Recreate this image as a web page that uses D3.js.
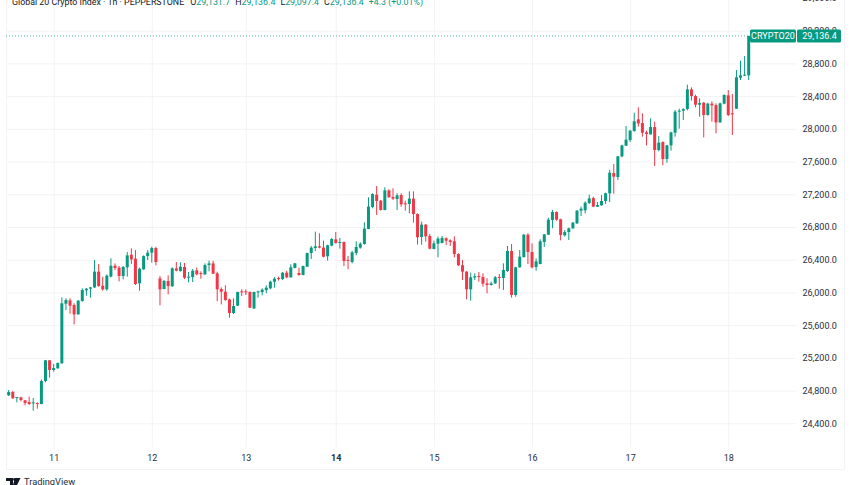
<!DOCTYPE html>
<html lang="en">
<head>
    <meta charset="UTF-8">
    <title>Global 20 Crypto Index</title>
    <script src="https://d3js.org/d3.v7.min.js"></script>
    <style>
        html, body { margin: 0; padding: 0; background: #fff; overflow: hidden; }
        svg { display: block; }
        text { font-family: Roboto, sans-serif; fill: #131722; }
        .grid line { stroke: #f2f3f5; stroke-width: 1; }
        .grid .domain { display: none; }
        .axis .domain, .axis line { display: none; }
        .axis text { font-size: 9px; fill: #2a2e39; }
    </style>
</head>
<body>
    <div id="chart"></div>

    <script>
        const width = 852, height = 485;
        const upColor = "#089981", downColor = "#f23645";

        // open, high, low, close, one row per hour
        const candles = [
            [24742,24807,24734,24783],[24783,24795,24701,24705],[24713,24721,24656,24721],[24717,24725,24668,24685],
            [24681,24685,24620,24648],[24660,24725,24624,24636],[24648,24709,24554,24656],[24648,24656,24579,24636],
            [24636,24937,24632,24917],[24917,25174,24901,25170],[25170,25174,24958,25052],[25052,25125,25031,25076],
            [25072,25145,25068,25137],[25133,25940,25129,25867],[25862,25928,25785,25907],[25903,25928,25740,25838],
            [25846,25867,25610,25732],[25732,25907,25728,25899],[25895,26050,25887,26030],[26025,26054,25960,26046],
            [26046,26066,25936,26062],[26062,26396,26054,26254],[26254,26347,26070,26078],[26082,26193,26021,26038],
            [26038,26221,26021,26205],[26193,26417,26184,26327],[26327,26355,26274,26298],[26303,26323,26135,26201],
            [26201,26323,26160,26311],[26307,26494,26193,26453],[26461,26539,26347,26404],[26413,26519,26091,26103],
            [26111,26303,26021,26290],[26282,26453,26278,26445],[26445,26519,26396,26486],[26486,26559,26364,26543],
            [26543,26559,26331,26372],[26172,26201,25842,26038],[26042,26152,26038,26140],[26140,26209,25977,26078],
            [26074,26307,26070,26294],[26294,26372,26258,26266],[26262,26368,26254,26315],[26311,26360,26164,26180],
            [26184,26250,26123,26193],[26188,26286,26127,26266],[26270,26303,26209,26221],[26237,26258,26168,26229],
            [26221,26355,26213,26335],[26335,26388,26258,26355],[26355,26388,26225,26229],[26233,26254,25895,26038],
            [26042,26062,25854,26009],[26009,26087,25899,25907],[25915,25924,25691,25748],[25748,25928,25736,25834],
            [25838,26009,25834,26005],[26013,26038,25956,26005],[26013,26038,25968,26005],[26005,26013,25809,25814],
            [25805,26009,25797,26005],[26005,26021,25936,26013],[26005,26050,25964,26034],[26029,26087,25989,26058],
            [26050,26144,26038,26131],[26131,26188,26058,26168],[26176,26193,26144,26168],[26164,26250,26152,26241],
            [26242,26266,26173,26185],[26185,26344,26181,26307],[26299,26360,26295,26356],[26238,26303,26205,26213],
            [26213,26327,26209,26323],[26315,26486,26311,26482],[26482,26568,26409,26548],[26543,26743,26507,26564],
            [26564,26723,26539,26548],[26548,26633,26429,26437],[26442,26584,26389,26576],[26572,26666,26564,26653],
            [26649,26739,26596,26605],[26609,26666,26535,26617],[26617,26621,26323,26385],[26397,26446,26283,26389],
            [26372,26507,26356,26490],[26482,26625,26454,26556],[26548,26613,26535,26596],[26592,26857,26584,26780],
            [26776,27163,26772,27049],[27045,27212,27028,27204],[27195,27301,26947,27118],[27122,27130,27000,27008],
            [27008,27285,27004,27248],[27248,27261,27159,27163],[27167,27273,27130,27147],[27142,27212,27008,27187],
            [27191,27212,27049,27077],[27090,27122,27000,27077],[27081,27236,26967,27147],[27147,27236,26853,26959],
            [26959,26967,26584,26674],[26678,26865,26584,26829],[26829,26837,26621,26686],[26690,26715,26527,26535],
            [26531,26633,26527,26600],[26596,26682,26429,26658],[26605,26690,26600,26666],[26662,26674,26580,26633],
            [26637,26649,26568,26617],[26625,26686,26429,26470],[26470,26478,26323,26332],[26332,26397,26152,26254],
            [26254,26262,25916,26038],[26038,26242,25900,26185],[26181,26234,26152,26197],[26201,26250,26132,26189],
            [26189,26234,26071,26107],[26111,26173,25989,26091],[26091,26132,26083,26111],[26111,26201,26103,26185],
            [26189,26226,26046,26181],[26177,26356,26030,26275],[26262,26568,26250,26507],[26507,26592,25936,25969],
            [25969,26315,25948,26307],[26307,26519,26303,26437],[26433,26714,26425,26706],[26706,26723,26348,26494],
            [26494,26600,26295,26307],[26311,26417,26266,26380],[26348,26649,26344,26625],[26617,26714,26555,26710],
            [26706,26914,26702,26890],[26886,27008,26784,26983],[26983,26991,26877,26890],[26894,26902,26637,26702],
            [26698,26763,26682,26739],[26739,26792,26641,26784],[26784,26861,26776,26853],[26845,27008,26837,27000],
            [27000,27049,26934,27024],[27004,27114,26967,27097],[27093,27195,27081,27150],[27154,27171,27044,27049],
            [27049,27106,27044,27069],[27065,27191,27061,27118],[27118,27220,27081,27212],[27212,27497,27106,27464],
            [27460,27570,27207,27415],[27411,27668,27375,27664],[27664,27806,27652,27798],[27794,28035,27790,27868],
            [27863,27986,27839,27978],[27974,28198,27965,28092],[28116,28263,28027,28067],[28071,28190,27904,27953],
            [27957,27978,27798,27937],[27933,28128,27929,28022],[28022,28088,27546,27741],[27741,27912,27725,27831],
            [27839,27847,27554,27631],[27631,27806,27586,27798],[27798,27965,27733,27957],[27953,28230,27904,28210],
            [28210,28247,28002,28222],[28222,28251,28108,28242],[28242,28540,28226,28483],[28483,28507,28344,28401],
            [28401,28418,28263,28295],[28295,28373,28149,28316],[28320,28328,27896,28169],[28169,28320,28161,28308],
            [28308,28336,28088,28287],[28291,28312,27945,28079],[28079,28320,28075,28312],[28308,28422,28300,28414],
            [28410,28475,28157,28169],[28190,28426,27925,28185],[28247,28719,28242,28630],[28626,28833,28597,28654],
            [28650,28890,28646,28662],[28654,29136.4,28597,29136.4]
        ].map((d, i) => ({ i: i, open: d[0], high: d[1], low: d[2], close: d[3] }));

        // candle index where each day starts
        const days = { 11: 11, 35: 12, 58: 13, 80: 14, 104: 15, 128: 16, 152: 17, 176: 18 };
        const lastPrice = 29136.4;

        const plot = { left: 6, right: 796, bottom: 447 };

        const x = d3.scaleLinear().domain([0, 181]).range([8.7, 748.7]);
        const y = d3.scaleLinear().domain([24400, 29200]).range([423.3, 30.7]);
        const priceTicks = d3.range(24400, 29601, 400);
        const dayTicks = Object.keys(days).map(Number);

        const svg = d3.select("#chart").append("svg")
            .attr("width", width)
            .attr("height", height);

        // grid lines
        svg.append("g")
            .attr("class", "grid")
            .attr("transform", `translate(${plot.left},0)`)
            .call(d3.axisLeft(y).tickValues(priceTicks.slice(0, -1)).tickSize(plot.left - plot.right).tickFormat(""));

        svg.append("g")
            .attr("class", "grid")
            .attr("transform", `translate(0,${plot.bottom})`)
            .call(d3.axisBottom(x).tickValues(dayTicks).tickSize(-plot.bottom).tickFormat(""));

        // frame
        svg.append("path")
            .attr("d", "M6.5 0V469.5H844.5V0")
            .attr("fill", "none")
            .attr("stroke", "#f2f3f5");

        // last price line
        svg.append("line")
            .attr("x1", plot.left).attr("x2", x(181))
            .attr("y1", y(lastPrice)).attr("y2", y(lastPrice))
            .attr("stroke", upColor)
            .attr("stroke-opacity", 0.7)
            .attr("stroke-dasharray", "1,2");

        const color = d => d.close >= d.open ? upColor : downColor;

        const candle = svg.append("g").selectAll("g")
            .data(candles)
            .join("g");

        candle.append("line")
            .attr("x1", d => x(d.i)).attr("x2", d => x(d.i))
            .attr("y1", d => y(d.high)).attr("y2", d => y(d.low))
            .attr("stroke", color)
            .attr("stroke-width", 1);

        candle.append("rect")
            .attr("x", d => x(d.i) - 1.5)
            .attr("width", 3)
            .attr("y", d => y(Math.max(d.open, d.close)))
            .attr("height", d => Math.max(1, Math.abs(y(d.open) - y(d.close))))
            .attr("fill", color);

        // axes
        svg.append("g")
            .attr("class", "axis")
            .attr("transform", `translate(${plot.right},0)`)
            .call(d3.axisRight(y).tickValues(priceTicks).tickSize(0).tickPadding(6.4).tickFormat(d3.format(",.1f")));

        const dayAxis = svg.append("g")
            .attr("class", "axis")
            .attr("transform", `translate(0,${plot.bottom})`)
            .call(d3.axisBottom(x).tickValues(dayTicks).tickSize(0).tickPadding(8).tickFormat(d => days[d]));
        dayAxis.selectAll("text").style("font-weight", d => days[d] === 14 ? 700 : 400);

        // price tags
        const tagY = y(lastPrice) - 6.5;
        svg.append("rect").attr("x", 750).attr("y", tagY).attr("width", 46).attr("height", 13).attr("rx", 1.5).attr("fill", upColor);
        svg.append("rect").attr("x", 797).attr("y", tagY).attr("width", 44).attr("height", 13).attr("rx", 1.5).attr("fill", upColor);
        svg.append("text").attr("x", 773).attr("y", y(lastPrice) + 3.2).attr("text-anchor", "middle")
            .style("font-size", "9px").style("fill", "#fff").text("CRYPTO20");
        svg.append("text").attr("x", 819.5).attr("y", y(lastPrice) + 3.2).attr("text-anchor", "middle")
            .style("font-size", "9px").style("fill", "#fff").text(d3.format(",.1f")(lastPrice));

        // header, cut off by the top of the picture
        const header = svg.append("text").attr("x", 12).attr("y", 4.5).style("font-size", "8.85px");
        header.append("tspan").text("Global 20 Crypto Index · 1h · PEPPERSTONE");
        [["O", "29,131.7"], ["H", "29,136.4"], ["L", "29,097.4"], ["C", "29,136.4"]].forEach((d, i) => {
            header.append("tspan").attr("dx", i === 0 ? 6 : 5).text(d[0]);
            header.append("tspan").style("fill", upColor).text(d[1]);
        });
        header.append("tspan").attr("dx", 5).style("fill", upColor).text("+4.3 (+0.01%)");

        // logo
        svg.append("path")
            .attr("d", "M6 478H13V485H10V481H6ZM15 478H20.5L17 485H13Z")
            .attr("fill", "#131722");
        svg.append("circle").attr("cx", 14.5).attr("cy", 479.5).attr("r", 1.4).attr("fill", "#131722");
        svg.append("text").attr("x", 24).attr("y", 484.5).style("font-size", "9.3px").style("fill", "#2a2e39").text("TradingView");
    </script>
</body>
</html>
